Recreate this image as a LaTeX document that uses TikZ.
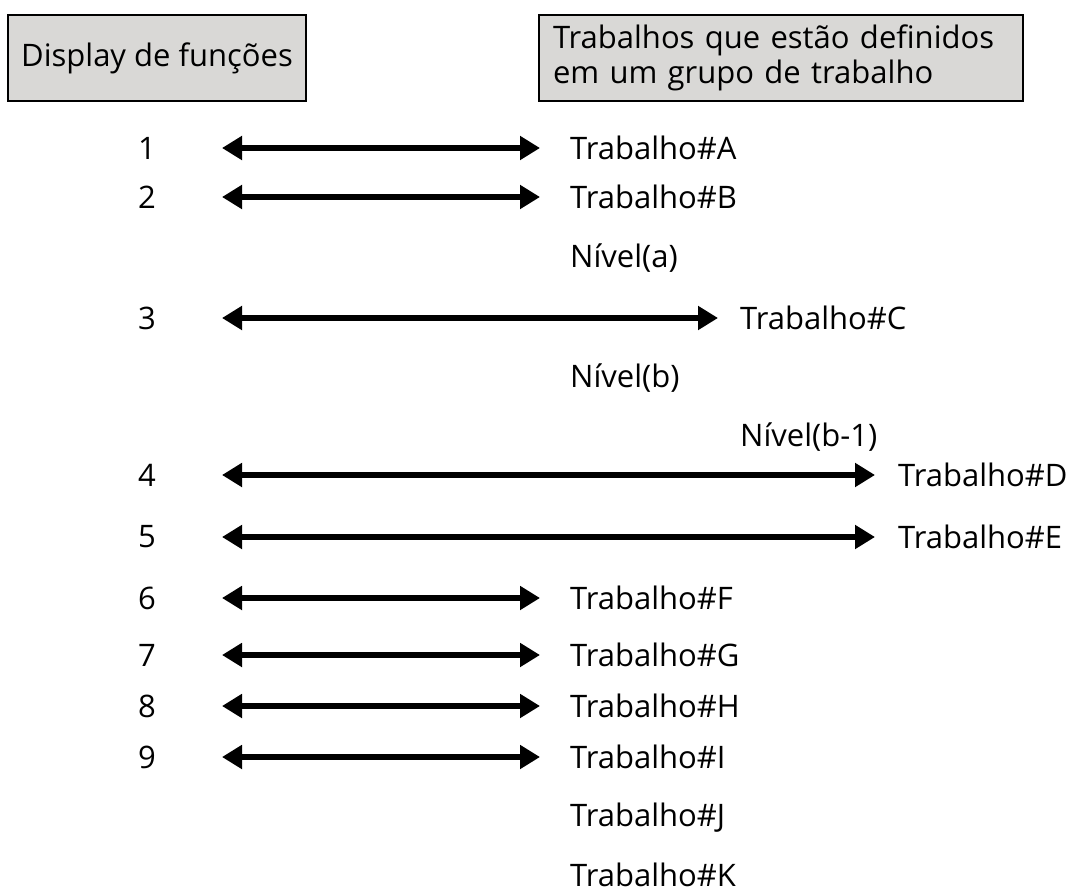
\documentclass[tikz,border=0pt]{standalone}
\usepackage{fontspec}
\setmainfont{Open Sans}
\usetikzlibrary{arrows.meta}
\begin{document}
\begin{tikzpicture}[x=1pt,y=-1pt,
  lbl/.style={anchor=west,inner sep=0pt,font=\fontsize{31}{37}\selectfont},
  num/.style={inner sep=0pt,font=\fontsize{31}{37}\selectfont},
  hdr/.style={draw=black,line width=2pt,fill=boxgray,inner sep=0pt,font=\fontsize{31}{35}\selectfont},
  arr/.style={line width=6.5pt,{Triangle[length=20pt,width=23pt]}-{Triangle[length=20pt,width=23pt]}}]
\definecolor{boxgray}{HTML}{D9D8D6}
\useasboundingbox (0,0) rectangle (1071,894);
\node[hdr,minimum width=298pt,minimum height=86pt] (h1) at (157,58) {Display de funções};
\node[hdr,minimum height=86pt,align=left,anchor=west,inner xsep=14pt,text width=456pt] (h2) at (538,58) {Trabalhos que estão definidos\\em um grupo de trabalho};
% numbers
\foreach \n/\y in {1/148,2/197,3/318,4/475,5/537,6/598,7/655,8/706,9/757}
  \node[num] (n\n) at (147,\y) {\n};
% left arrow coordinates
\foreach \n/\y in {1/148,2/197,3/318,4/475,5/537,6/598,7/655,8/706,9/757}
  \coordinate (s\n) at (222,\y);
% labels
\node[lbl] (tA) at (570,148) {Trabalho\#A};
\node[lbl] (tB) at (570,197) {Trabalho\#B};
\node[lbl] (la) at (570,258) {Nível(a)};
\node[lbl] (tC) at (740,318) {Trabalho\#C};
\node[lbl] (lb) at (570,378) {Nível(b)};
\node[lbl] (lb1) at (740,437) {Nível(b-1)};
\node[lbl] (tD) at (898,475) {Trabalho\#D};
\node[lbl] (tE) at (898,537) {Trabalho\#E};
\node[lbl] (tF) at (570,598) {Trabalho\#F};
\node[lbl] (tG) at (570,655) {Trabalho\#G};
\node[lbl] (tH) at (570,706) {Trabalho\#H};
\node[lbl] (tI) at (570,757) {Trabalho\#I};
\node[lbl] (tJ) at (570,818) {Trabalho\#J};
\node[lbl] (tK) at (570,875) {Trabalho\#K};
% arrows
\draw[arr] (s1) -- ([xshift=-30pt]tA.west);
\draw[arr] (s2) -- ([xshift=-30pt]tB.west);
\draw[arr] (s3) -- ([xshift=-22pt]tC.west);
\draw[arr] (s4) -- ([xshift=-23pt]tD.west);
\draw[arr] (s5) -- ([xshift=-23pt]tE.west);
\draw[arr] (s6) -- ([xshift=-30pt]tF.west);
\draw[arr] (s7) -- ([xshift=-30pt]tG.west);
\draw[arr] (s8) -- ([xshift=-30pt]tH.west);
\draw[arr] (s9) -- ([xshift=-30pt]tI.west);
\end{tikzpicture}
\end{document}
